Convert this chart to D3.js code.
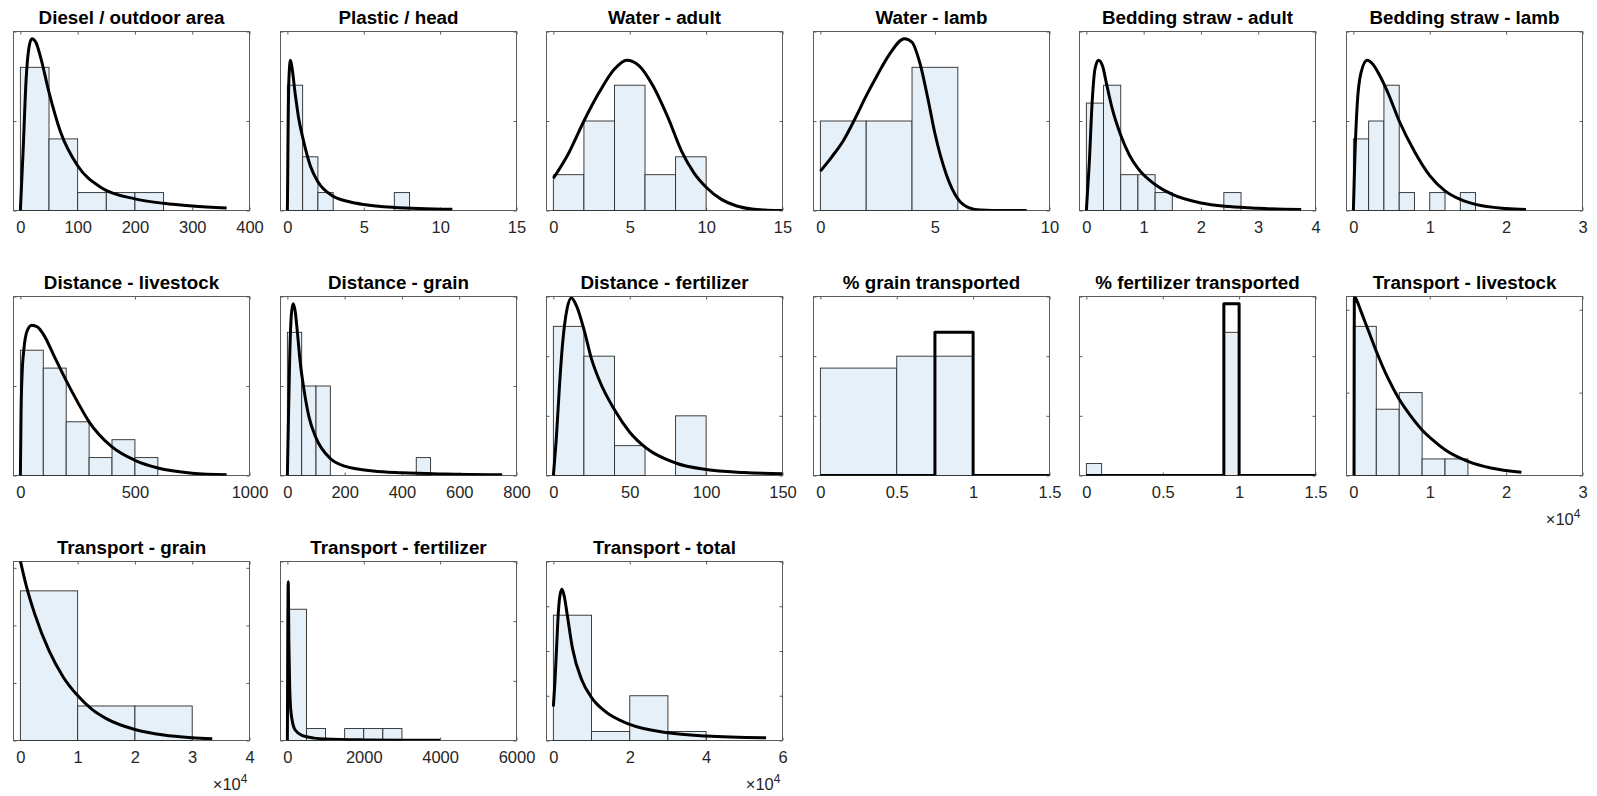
<!DOCTYPE html>
<html>
<head>
<meta charset="utf-8">
<script src="https://cdn.jsdelivr.net/npm/d3@7"></script>
<style>
  body { margin: 0; background: #fff; }
  svg { display: block; font-family: "Liberation Sans", Arial, Helvetica, sans-serif; }
</style>
</head>
<body>
<svg width="1597" height="796"></svg>
<script>
// panel titles, in reading order (3 rows x 6 columns)
const titles = [
  "Diesel / outdoor area", "Plastic / head", "Water - adult", "Water - lamb",
  "Bedding straw - adult", "Bedding straw - lamb",
  "Distance - livestock", "Distance - grain", "Distance - fertilizer",
  "% grain transported", "% fertilizer transported", "Transport - livestock",
  "Transport - grain", "Transport - fertilizer", "Transport - total"
];

// x axis: upper limit, tick step, power of ten shown as x10^n
const xMax      = [400, 15, 15, 10, 4, 3, 1000, 800, 150, 1.5, 1.5, 30000, 40000, 6000, 60000];
const xTickStep = [100, 5, 5, 5, 1, 1, 500, 200, 50, 0.5, 0.5, 10000, 10000, 2000, 20000];
const xExp      = [0, 0, 0, 0, 0, 0, 0, 0, 0, 0, 0, 4, 4, 0, 4];

// y axis (labels are hidden, only tick marks)
const yMax      = [10, 10, 10, 10, 10, 10, 10, 10, 6, 6, 15, 10.8, 15.55, 15, 20];
const yTickStep = [5, 5, 5, 5, 5, 5, 5, 5, 2, 2, 5, 5, 5, 5, 5];

// histogram bins start at 0
const binWidth = [50, 1, 2, 2, 0.3, 0.2, 100, 50, 20, 0.5, 0.1, 3000, 10000, 500, 10000];
const counts = [
  [8, 4, 1, 1, 1],
  [7, 3, 1, 0, 0, 0, 0, 1],
  [2, 5, 7, 2, 3],
  [5, 5, 8],
  [6, 7, 2, 2, 1, 0, 0, 0, 1],
  [4, 5, 7, 1, 0, 1, 0, 1],
  [7, 6, 3, 1, 2, 1],
  [8, 5, 5, 0, 0, 0, 0, 0, 0, 1],
  [5, 4, 1, 0, 2],
  [3.6, 4.0],
  [1, 0, 0, 0, 0, 0, 0, 0, 0, 12],
  [9, 4, 5, 1, 1],
  [13, 3, 3],
  [11, 1, 0, 1, 1, 1],
  [14, 1, 5, 1]
];

// fitted density curves as [x, y]
const curveDiesel = [[0,0],[5,3.5],[10,7.3],[15,9.1],[20,9.6],[27,9.4],[35,8.6],[50,6.6],[70,4.4],[100,2.5],[140,1.3],[200,0.65],[250,0.4],[300,0.25],[360,0.14]];
const curvePlastic = [[0,0],[0.02,1.6],[0.05,4.7],[0.1,7.3],[0.2,8.4],[0.3,8.0],[0.5,6.6],[0.75,5.1],[1,4.1],[1.5,2.5],[2,1.6],[3,0.8],[4,0.5],[5,0.33],[7,0.17],[10.8,0.07]];
const curveWaterAdult = [[0,1.8],[1,3.2],[2,5.0],[3,6.6],[4,7.9],[4.8,8.4],[5.6,8.1],[6.5,7.0],[7.5,5.2],[8.4,3.3],[9.2,2.1],[10,1.3],[11,0.62],[12,0.25],[13,0.08],[14,0.02],[15,0]];
const curveWaterLamb = [[0,2.2],[0.5,3.0],[1,3.9],[1.5,5.1],[2,6.4],[2.5,7.6],[3,8.7],[3.67,9.6],[4,9.4],[4.35,8.2],[4.7,6.2],[5,4.3],[5.5,2.0],[6,0.65],[6.5,0.15],[7,0.03],[8,0],[9,0]];
const curveStrawAdult = [[0,0],[0.05,2.6],[0.1,6.0],[0.15,7.9],[0.21,8.4],[0.28,8.1],[0.35,7.1],[0.45,5.7],[0.6,4.2],[0.75,3.1],[0.9,2.35],[1.2,1.45],[1.5,0.9],[2,0.42],[2.5,0.22],[3,0.12],[3.75,0.05]];
const curveStrawLamb = [[0,0],[0.02,3.0],[0.05,5.9],[0.1,7.7],[0.18,8.4],[0.25,8.2],[0.35,7.5],[0.45,6.6],[0.6,5.0],[0.8,3.3],[1,1.95],[1.2,1.1],[1.4,0.62],[1.6,0.34],[2,0.11],[2.26,0.05]];
const curveDistLivestock = [[0,0],[3,3.5],[8,5.8],[15,7.0],[30,8.1],[50,8.4],[75,8.3],[100,7.9],[150,6.6],[200,5.3],[250,4.1],[300,3.0],[400,1.6],[500,0.85],[600,0.42],[750,0.13],[900,0.04]];
const curveDistGrain = [[0,0],[3,2.5],[8,6.5],[14,9.0],[20,9.6],[27,9.2],[35,8.0],[45,6.3],[57,4.9],[75,3.3],[100,2.1],[150,0.95],[200,0.52],[300,0.25],[400,0.15],[550,0.08],[750,0.04]];
const curveDistFert = [[0,0],[2,1.3],[4,3.0],[6,4.4],[9,5.6],[11.8,5.95],[15,5.7],[20,4.9],[25,3.9],[30,3.2],[40,2.2],[50,1.45],[60,0.95],[80,0.42],[100,0.2],[125,0.1],[150,0.06]];
const curveGrainPct = [[0,0],[0.75,0],[0.75,4.8],[1,4.8],[1,0],[1.5,0]];
const curveFertPct = [[0,0],[0.9,0],[0.9,14.4],[1,14.4],[1,0],[1.5,0]];
const curveTransLivestock = [[90,0],[130,10.8],[400,10.6],[1000,9.9],[2000,8.7],[3000,7.5],[4500,5.9],[6000,4.6],[7500,3.6],[9000,2.75],[10500,2.1],[12000,1.55],[15000,0.85],[18000,0.45],[22000,0.2]];
const curveTransGrain = [[0,15.6],[1000,13.5],[2500,11.0],[5000,7.8],[7500,5.5],[10000,3.9],[12500,2.7],[15000,1.9],[20000,0.95],[25000,0.47],[30000,0.24],[33500,0.15]];
const curveTransFert = [[0,0],[10,8],[22,13.3],[40,8],[60,4.5],[100,2.2],[200,0.9],[400,0.4],[700,0.2],[1000,0.12],[2000,0.05],[3000,0.03],[4000,0.02]];
const curveTransTotal = [[0,3.8],[400,6.5],[800,10],[1300,14.3],[1800,16.4],[2280,16.9],[2900,16.0],[3650,14],[5000,10.3],[7500,6.7],[10000,4.8],[13400,3.3],[20000,1.8],[30000,0.86],[40000,0.5],[55700,0.3]];

const curves = [curveDiesel, curvePlastic, curveWaterAdult, curveWaterLamb, curveStrawAdult, curveStrawLamb,
  curveDistLivestock, curveDistGrain, curveDistFert, curveGrainPct, curveFertPct, curveTransLivestock,
  curveTransGrain, curveTransFert, curveTransTotal];
const stepCurve = [false, false, false, false, false, false, false, false, false, true, true, false, false, false, false];

const svg = d3.select("svg");
const panelW = 236, panelH = 179;
const fmt = d3.format("~g");
const axisColor = "#5c5c5c";

titles.forEach((title, i) => {
  const col = i % 6, row = Math.floor(i / 6);
  const left = Math.round(13 + 266.5 * col) + 0.5;
  const top = 31 + 265 * row + 0.5;
  const g = svg.append("g").attr("transform", `translate(${left},${top})`);

  const x = d3.scaleLinear().domain([-0.03 * xMax[i], xMax[i]]).range([0, panelW]);
  const y = d3.scaleLinear().domain([0, yMax[i]]).range([panelH, 0]);

  g.append("clipPath").attr("id", "clip" + i)
    .append("rect").attr("width", panelW).attr("height", panelH);

  // box first (MATLAB draws axes below data)
  g.append("rect")
    .attr("width", panelW).attr("height", panelH)
    .attr("fill", "none").attr("stroke", axisColor).attr("stroke-width", 1);

  const xt = d3.range(0, xMax[i] + xTickStep[i] / 2, xTickStep[i]);
  const yt = d3.range(0, yMax[i] + 1e-9, yTickStep[i]);

  const bottomAxis = g.append("g").attr("transform", `translate(0,${panelH})`)
    .call(d3.axisBottom(x).tickValues(xt).tickSize(-3).tickSizeOuter(0).tickPadding(11)
      .tickFormat(v => fmt(+(v / Math.pow(10, xExp[i])).toFixed(6))));
  g.append("g")
    .call(d3.axisTop(x).tickValues(xt).tickSize(-3).tickSizeOuter(0).tickFormat(""));
  g.append("g")
    .call(d3.axisLeft(y).tickValues(yt).tickSize(-3).tickSizeOuter(0).tickFormat(""));
  g.append("g").attr("transform", `translate(${panelW},0)`)
    .call(d3.axisRight(y).tickValues(yt).tickSize(-3).tickSizeOuter(0).tickFormat(""));

  g.selectAll(".domain").remove();
  g.selectAll(".tick line").attr("stroke", axisColor).attr("stroke-width", 1);
  bottomAxis.selectAll("text")
    .attr("fill", "#262626").attr("font-size", "16.5px")
    .attr("font-family", "'Liberation Sans', Arial, sans-serif");

  // histogram bars
  const bars = counts[i].map((c, k) => ({ a: k * binWidth[i], b: (k + 1) * binWidth[i], c }))
    .filter(d => d.c > 0);
  g.selectAll("rect.bar").data(bars).enter().append("rect")
    .attr("class", "bar")
    .attr("x", d => x(d.a))
    .attr("y", d => y(d.c))
    .attr("width", d => x(d.b) - x(d.a))
    .attr("height", d => y(0) - y(d.c))
    .attr("fill", "#e5f0f8")
    .attr("stroke", "#2a2a2a")
    .attr("stroke-width", 0.9);

  // fitted curve
  const line = d3.line()
    .x(d => x(d[0]))
    .y(d => y(d[1]))
    .curve(stepCurve[i] ? d3.curveLinear : d3.curveMonotoneX);
  g.append("path")
    .datum(curves[i])
    .attr("d", line)
    .attr("fill", "none")
    .attr("stroke", "#000")
    .attr("stroke-width", 3)
    .attr("stroke-linejoin", "round")
    .attr("clip-path", `url(#clip${i})`);

  // title
  g.append("text")
    .attr("x", panelW / 2).attr("y", -7.5)
    .attr("text-anchor", "middle")
    .attr("font-size", "18.8px").attr("font-weight", "bold")
    .attr("fill", "#000")
    .text(title);

  // x10^n exponent label
  if (xExp[i] > 0) {
    const t = g.append("text")
      .attr("x", panelW - 2).attr("y", panelH + 49)
      .attr("text-anchor", "end")
      .attr("font-size", "16.5px").attr("fill", "#262626");
    t.append("tspan").text("\u00d710");
    t.append("tspan").attr("font-size", "12px").attr("dy", -7).text(xExp[i]);
  }
});
</script>
</body>
</html>
